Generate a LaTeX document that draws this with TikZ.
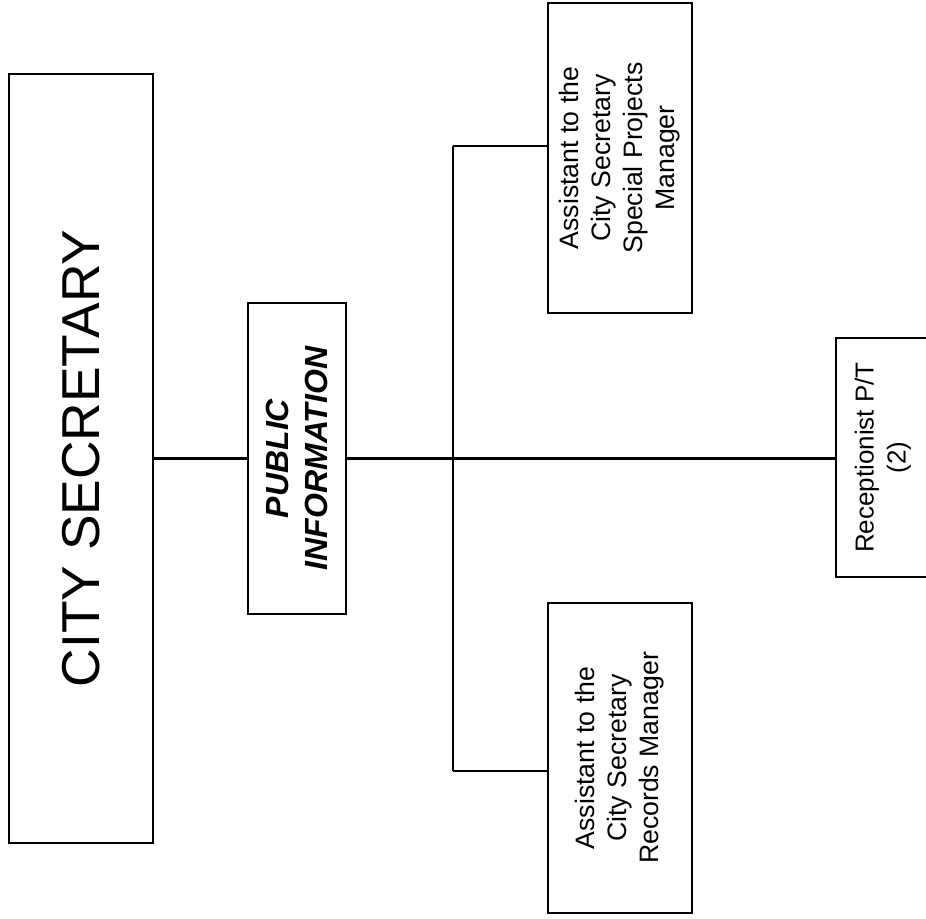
\documentclass[tikz,border=0pt]{standalone}
\usepackage{fontspec}
\setmainfont{Liberation Sans}
\tikzset{
  orgbox/.style={draw, line width=1.7pt, rotate=90, align=center, inner sep=0pt},
  orgline/.style={line width=1.7pt}
}
\begin{document}
\begin{tikzpicture}[x=0.75pt,y=0.75pt,yscale=-1,xscale=1]
\useasboundingbox (0,0) rectangle (926,919);
\clip (0,0) rectangle (926,919);

%Shape: Rectangle [id:citysec]
\node [orgbox, line width=1.9pt, minimum width=576.75pt, minimum height=108pt, font=\fontsize{40}{48}\selectfont] (citysec) at (81,458.5) {CITY SECRETARY};
%Shape: Rectangle [id:pubinfo]
\node [orgbox, minimum width=233.25pt, minimum height=73.5pt, font=\fontsize{24}{29}\selectfont\bfseries\itshape] (pubinfo) at (297,458.5) {PUBLIC\\INFORMATION};
%Shape: Rectangle [id:specproj]
\node [orgbox, minimum width=232.5pt, minimum height=108pt, font=\fontsize{20}{24}\selectfont] (specproj) at (620,158) {Assistant to the\\City Secretary\\Special Projects\\Manager};
%Shape: Rectangle [id:records]
\node [orgbox, minimum width=232.5pt, minimum height=108pt, font=\fontsize{20}{24}\selectfont] (records) at (620,758) {Assistant to the\\City Secretary\\Records Manager};
%Shape: Rectangle [id:recept]
\node [orgbox, minimum width=179.25pt, minimum height=70.5pt, font=\fontsize{19.5}{24}\selectfont] (recept) at (883,457.5) {Receptionist P/T\\(2)};

%Straight Lines [id:trunk]
\coordinate (trunktop) at (453,146);
\coordinate (trunkbot) at (453,771);
\draw [orgline] (trunktop) -- (trunkbot);
\draw [orgline] (trunktop) -- (trunktop -| specproj.north);
\draw [orgline] (trunkbot) -- (trunkbot -| records.north);
%Straight Lines [id:main]
\draw [orgline] (citysec.south) -- (pubinfo.north);
\draw [orgline] (pubinfo.south) -- (pubinfo.south -| recept.north);

\end{tikzpicture}
\end{document}
